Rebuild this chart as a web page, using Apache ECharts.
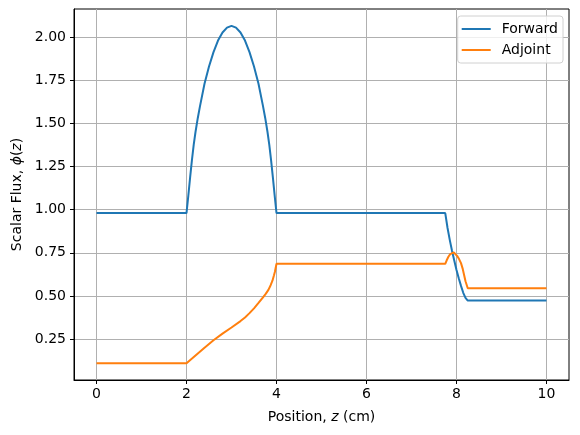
<!DOCTYPE html>
<html>
<head>
<meta charset="utf-8">
<script src="https://cdn.jsdelivr.net/npm/echarts@6/dist/echarts.min.js"></script>
<style>
html,body{margin:0;padding:0;background:#fff;}
#chart{width:580px;height:435px;}
</style>
</head>
<body>
<div id="chart"></div>
<script>
// Positions (cm) and values
var forwardX = [0, 2.0, 2.04, 2.08, 2.12, 2.16, 2.2, 2.25, 2.3, 2.4, 2.5, 2.6, 2.7, 2.8, 2.9, 3.0, 3.1, 3.2, 3.3, 3.4, 3.5, 3.6, 3.7, 3.75, 3.8, 3.84, 3.88, 3.92, 3.96, 4.0,
                7.75, 7.8, 7.85, 7.9, 7.95, 8.0, 8.05, 8.1, 8.15, 8.2, 8.25, 10];
var forwardY = [0.98, 0.98, 1.08, 1.185, 1.285, 1.375, 1.45, 1.53, 1.60, 1.73, 1.83, 1.913, 1.98, 2.027, 2.055, 2.065, 2.055, 2.027, 1.98, 1.913, 1.83, 1.73, 1.60, 1.53, 1.45, 1.375, 1.285, 1.185, 1.08, 0.98,
                0.98, 0.895, 0.825, 0.762, 0.705, 0.65, 0.602, 0.558, 0.518, 0.488, 0.473, 0.473];
var adjointX = [0, 2.0, 2.2, 2.4, 2.6, 2.8, 3.0, 3.2, 3.3, 3.4, 3.5, 3.6, 3.7, 3.76, 3.82, 3.87, 3.91, 3.944, 3.965, 3.98, 4.0,
                7.75, 7.78, 7.82, 7.86, 7.9, 7.94, 7.98, 8.02, 8.06, 8.1, 8.14, 8.17, 8.2, 8.25, 10];
var adjointY = [0.11, 0.11, 0.155, 0.20, 0.243, 0.281, 0.317, 0.354, 0.375, 0.40, 0.428, 0.459, 0.492, 0.512, 0.535, 0.562, 0.588, 0.62, 0.64, 0.66, 0.686,
                0.686, 0.705, 0.727, 0.742, 0.75, 0.752, 0.745, 0.73, 0.712, 0.69, 0.655, 0.62, 0.585, 0.544, 0.544];
var xTicks = [0, 2, 4, 6, 8, 10];
var yTicks = [0.25, 0.5, 0.75, 1.0, 1.25, 1.5, 1.75, 2.0];
var seriesNames = ['Forward', 'Adjoint'];

function pairs(xs, ys) { return xs.map(function (x, i) { return [x, ys[i]]; }); }

var font = 'DejaVu Sans';
var fs = 14;
var chart = echarts.init(document.getElementById('chart'), null, {renderer: 'canvas'});
chart.setOption({
  animation: false,
  backgroundColor: '#ffffff',
  textStyle: {fontFamily: font, color: '#000'},
  grid: {left: 74, right: 11, top: 9, bottom: 55, show: true, borderColor: '#000', borderWidth: 1, backgroundColor: 'transparent'},
  legend: {
    orient: 'vertical', right: 17, top: 16,
    data: seriesNames,
    icon: 'rect', itemWidth: 29, itemHeight: 2, itemGap: 7,
    padding: [6, 5, 6, 4],
    borderColor: '#d0d0d0', borderWidth: 1, borderRadius: 3,
    backgroundColor: 'rgba(255,255,255,0.8)',
    textStyle: {fontFamily: font, fontSize: fs, color: '#000', padding: [0, 0, 0, 6]}
  },
  xAxis: {
    type: 'value', min: -0.5, max: 10.5,
    name: 'Position, {i|z} (cm)', nameLocation: 'middle', nameGap: 30,
    nameTextStyle: {fontFamily: font, fontSize: fs, color: '#000', rich: {i: {fontStyle: 'italic', fontFamily: font, fontSize: fs, color: '#000'}}},
    axisLine: {show: true, onZero: false, lineStyle: {color: '#000', width: 1}},
    axisTick: {show: true, inside: false, length: 4, customValues: xTicks, lineStyle: {color: '#000'}},
    axisLabel: {customValues: xTicks, fontFamily: font, fontSize: fs, color: '#000', margin: 7},
    splitLine: {show: true, lineStyle: {color: '#b0b0b0', width: 1}}
  },
  yAxis: {
    type: 'value', min: 0.0125, max: 2.163,
    name: 'Scalar Flux, {i|ϕ}({i|z})', nameLocation: 'middle', nameGap: 50,
    nameTextStyle: {fontFamily: font, fontSize: fs, color: '#000', rich: {i: {fontStyle: 'italic', fontFamily: font, fontSize: fs, color: '#000'}}},
    axisLine: {show: true, onZero: false, lineStyle: {color: '#000', width: 1}},
    axisTick: {show: true, inside: false, length: 4, customValues: yTicks, lineStyle: {color: '#000'}},
    axisLabel: {customValues: yTicks, fontFamily: font, fontSize: fs, color: '#000', margin: 8,
      formatter: function (v) { return Number(v).toFixed(2); }},
    splitLine: {show: true, lineStyle: {color: '#b0b0b0', width: 1}}
  },
  series: [
    {name: seriesNames[0], type: 'line', data: pairs(forwardX, forwardY), showSymbol: false, symbol: 'none',
     lineStyle: {color: '#1f77b4', width: 2}, itemStyle: {color: '#1f77b4'}},
    {name: seriesNames[1], type: 'line', data: pairs(adjointX, adjointY), showSymbol: false, symbol: 'none',
     lineStyle: {color: '#ff7f0e', width: 2}, itemStyle: {color: '#ff7f0e'}}
  ]
});
</script>
</body>
</html>
